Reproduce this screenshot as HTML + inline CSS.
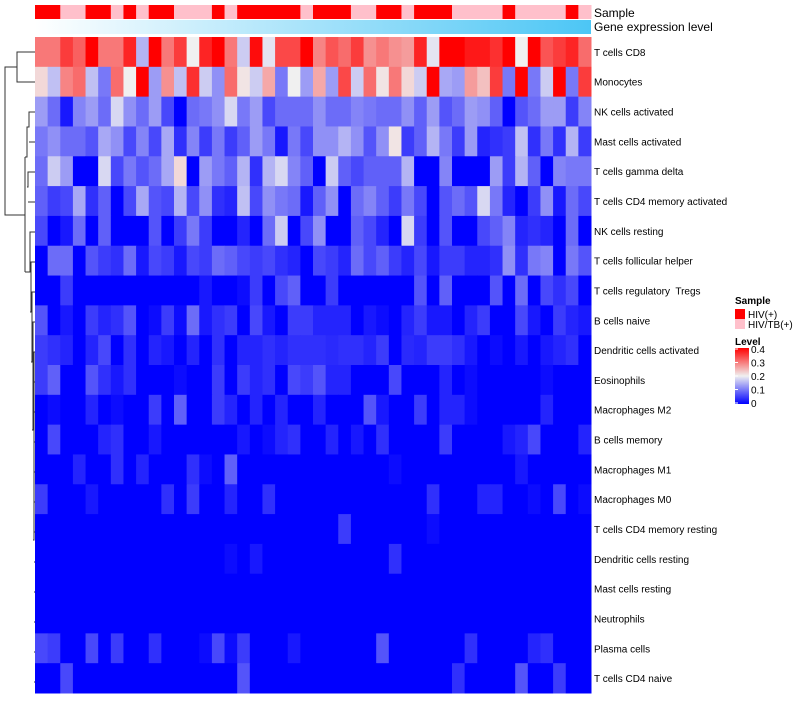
<!DOCTYPE html>
<html><head><meta charset="utf-8"><style>
body{margin:0;background:#fff;}
svg text{font-family:"Liberation Sans",sans-serif;white-space:pre;}
</style></head><body>
<svg id="chart" width="800" height="700" xmlns="http://www.w3.org/2000/svg">
<defs>
<linearGradient id="geneGrad" x1="0" x2="1" y1="0" y2="0"><stop offset="0" stop-color="#ffffff"/><stop offset="1" stop-color="#4cc6f5"/></linearGradient>
<linearGradient id="levelGrad" x1="0" x2="0" y1="1" y2="0"><stop offset="0" stop-color="#0000ff"/><stop offset="0.5" stop-color="#f0f0f0"/><stop offset="1" stop-color="#ff0000"/></linearGradient>
</defs>
<g id="cells"></g>
<g id="sampleBar"></g>
<rect x="35" y="20" width="556" height="14" fill="url(#geneGrad)"/>
<text x="594" y="17" font-size="12">Sample</text>
<text x="594" y="31" font-size="12">Gene expression level</text>
<g id="rowLabels"></g>
<g stroke="#333" stroke-width="1" fill="none">
<path d="M35 52H17V82H35M17 67H5V215H25"/>
<path d="M25 157V272"/>
<path d="M25 157H27V127H29V112H35M29 142H35M27 187H28V172H35M28 202H35"/>
<path d="M25 272H30V232H35M30 312H31V262H35M31 362H32V292H35M32 430H33V322H35M33 540H34V352H35M34 382H35M34 412H35M34 442H35M34 472H35M34 502H35M34 532H35M34 562H35M34 592H35M34 622H35M34 652H35M34 682H35"/>
</g>
<g>
<text x="735" y="304" font-size="10" font-weight="bold">Sample</text>
<rect x="735" y="309" width="10" height="10" fill="#ff0000"/>
<text x="748" y="318" font-size="10">HIV(+)</text>
<rect x="735" y="319" width="10" height="10" fill="#ffc0cb"/>
<text x="748" y="328" font-size="10">HIV/TB(+)</text>
<text x="735" y="345" font-size="10" font-weight="bold">Level</text>
<rect x="735" y="348" width="14" height="56" fill="url(#levelGrad)"/>
<g id="levelTicks"></g>
</g>
</svg>
<script>
const rowNames=["T cells CD8","Monocytes","NK cells activated","Mast cells activated","T cells gamma delta","T cells CD4 memory activated","NK cells resting","T cells follicular helper","T cells regulatory  Tregs","B cells naive","Dendritic cells activated","Eosinophils","Macrophages M2","B cells memory","Macrophages M1","Macrophages M0","T cells CD4 memory resting","Dendritic cells resting","Mast cells resting","Neutrophils","Plasma cells","T cells CD4 naive"];
const sampleGroups=[0,0,1,1,0,0,1,0,1,0,0,1,1,1,0,1,0,0,0,0,0,1,0,0,0,1,1,0,0,1,0,0,0,1,1,1,1,0,1,1,1,1,0,1];
const levelTicks=[0,0.1,0.2,0.3,0.4];
function z(n){return new Array(n).fill(0);}
function sparse(pairs){const a=z(44);for(const [i,v] of pairs)a[i]=v;return a;}
const rowCD8=[0.3,0.3,0.35,0.32,0.42,0.3,0.3,0.37,0.15,0.42,0.3,0.35,0.2,0.37,0.42,0.3,0.17,0.39,0.19,0.34,0.34,0.42,0.29,0.33,0.31,0.35,0.28,0.3,0.28,0.27,0.37,0.19,0.42,0.42,0.38,0.38,0.36,0.42,0.2,0.42,0.33,0.35,0.37,0.31];
const rowMono=[0.22,0.16,0.29,0.31,0.16,0.1,0.31,0.2,0.42,0.13,0.28,0.16,0.36,0.17,0.12,0.31,0.21,0.17,0.26,0.1,0.2,0.13,0.26,0.13,0.34,0.17,0.31,0.21,0.3,0.22,0.17,0.42,0.14,0.13,0.27,0.24,0.35,0.1,0.42,0.1,0.17,0.4,0.1,0.35];
const rowNKa=[0.13,0.09,0.02,0.11,0.13,0.09,0.18,0.12,0.09,0.13,0.06,0,0.09,0.1,0.12,0.18,0.1,0.13,0.06,0.09,0.09,0.09,0.12,0.09,0.09,0.11,0.1,0.09,0.09,0.12,0.08,0.13,0.07,0.09,0.13,0.12,0.08,0,0.07,0.09,0.13,0.13,0.05,0.11];
const rowMastA=[0.1,0.12,0.09,0.09,0.07,0.14,0.12,0.06,0.11,0.06,0.14,0.04,0.11,0.05,0.1,0.05,0.08,0.13,0.1,0.02,0.1,0.06,0.12,0.12,0.15,0.12,0.07,0.12,0.21,0.05,0.08,0.15,0.1,0.05,0.13,0.03,0.04,0.05,0.16,0.04,0.1,0.04,0.15,0.05];
const rowGD=[0.09,0.17,0.13,0,0,0.18,0.06,0.1,0.07,0.09,0.14,0.22,0,0.13,0.1,0.08,0.15,0.04,0.15,0.18,0.11,0.08,0,0.17,0.08,0.06,0.08,0.08,0.08,0.15,0,0,0.11,0,0,0,0.13,0.05,0.15,0.08,0,0.11,0.1,0.1];
const rowCD4a=[0.08,0.05,0.06,0.14,0.04,0.08,0,0.06,0.14,0.07,0.06,0.15,0.06,0.12,0.04,0.03,0.16,0.06,0.12,0.1,0.09,0.02,0.08,0.12,0,0.09,0.11,0.08,0.05,0.1,0.06,0,0.07,0.09,0.07,0.18,0.1,0.03,0,0.05,0.12,0.02,0.09,0.06];
const rowNKr=[0.06,0,0.02,0.09,0,0.08,0,0,0,0.07,0,0.05,0.1,0.05,0,0,0.03,0,0.09,0.17,0,0.06,0.12,0,0,0.08,0.06,0.03,0,0.18,0.05,0,0.07,0,0,0.06,0.08,0.11,0.03,0.04,0.03,0,0.09,0];
const rowTfh=[0,0.09,0.09,0,0.07,0.05,0.04,0.09,0.02,0.06,0.05,0.02,0.06,0.05,0.09,0.08,0.06,0.05,0.06,0.04,0.03,0,0.06,0.05,0.03,0.09,0.06,0.08,0.05,0.03,0.06,0.02,0.05,0.05,0.03,0.03,0.04,0.12,0.04,0.1,0.11,0,0.1,0.07];
const rowTreg=[0,0,0.05,0,0,0,0,0,0,0,0,0,0,0.02,0,0,0.01,0.05,0,0.06,0.08,0,0,0.05,0,0,0,0,0,0,0.07,0,0.08,0,0,0,0.07,0,0.09,0,0.06,0.04,0.06,0];
const rowBn=[0.07,0,0.02,0,0.05,0.03,0.04,0.07,0,0.01,0.05,0.01,0.09,0.02,0.04,0.05,0,0.06,0.02,0,0.05,0.05,0.03,0.03,0.03,0,0.02,0.01,0,0.03,0.05,0.02,0.02,0,0.03,0.05,0,0,0.06,0.02,0,0.05,0.03,0.02];
const rowDCa=[0.05,0.04,0.03,0,0.03,0.06,0,0.04,0,0.03,0.02,0,0.03,0,0.04,0,0.03,0.03,0.04,0.03,0.04,0.04,0.04,0.035,0.04,0.04,0.03,0.05,0,0.035,0.03,0.05,0.05,0.04,0.02,0,0.01,0,0.02,0,0.02,0.03,0.04,0];
const rowEos=[0.05,0.08,0,0,0.07,0.04,0.02,0.04,0,0,0,0.01,0,0,0.05,0,0.05,0.03,0.04,0,0.06,0.05,0.07,0.03,0.03,0,0,0,0.06,0,0,0,0.03,0,0.01,0,0,0,0,0,0.01,0,0,0];
const rowM2=[0,0.01,0,0,0.03,0,0.01,0,0,0.05,0,0.08,0,0,0.05,0.03,0,0.03,0,0.03,0,0,0.03,0,0,0,0.07,0.02,0,0,0.05,0,0.03,0.03,0.01,0,0,0,0,0,0.03,0,0,0];
const rowBm=[0,0.06,0,0,0,0.03,0.04,0,0,0.02,0,0,0,0,0,0,0.02,0,0.01,0.03,0.04,0,0,0.03,0,0.02,0,0.04,0,0,0,0,0.05,0,0,0,0,0.02,0.03,0.06,0,0,0,0.03];
const rowM1=sparse([[3,0.03],[6,0.04],[8,0.03],[12,0.04],[13,0.01],[15,0.08],[28,0.01],[38,0.02]]);
const rowM0=sparse([[0,0.05],[4,0.02],[10,0.04],[12,0.05],[15,0.03],[18,0.04],[31,0.04],[35,0.03],[36,0.03],[39,0.01],[41,0.06],[43,0.01]]);
const rowCD4r=sparse([[24,0.05],[31,0.01]]);
const rowDCr=sparse([[15,0.01],[17,0.02],[28,0.04]]);
const rowMastR=z(44);
const rowNeu=z(44);
const rowPlasma=sparse([[0,0.06],[1,0.05],[4,0.06],[6,0.05],[9,0.04],[13,0.01],[14,0.06],[15,0.01],[16,0.05],[20,0.02],[27,0.07],[34,0.04],[39,0.03],[40,0.04]]);
const rowCD4n=sparse([[2,0.06],[16,0.07],[33,0.04],[38,0.07],[41,0.05]]);
const values=[rowCD8,rowMono,rowNKa,rowMastA,rowGD,rowCD4a,rowNKr,rowTfh,rowTreg,rowBn,rowDCa,rowEos,rowM2,rowBm,rowM1,rowM0,rowCD4r,rowDCr,rowMastR,rowNeu,rowPlasma,rowCD4n];

const NS="http://www.w3.org/2000/svg";
const x0=35,x1=591,y0=37,y1=693;
const nCol=sampleGroups.length,nRow=rowNames.length;
const cw=(x1-x0)/nCol,rh=(y1-y0)/nRow;
function xPos(i){return x0+i*cw;}
function yPos(j){return y0+j*rh;}
function lerp(a,b,t){return Math.round(a+(b-a)*t);}
function color(v){
  v=Math.max(0,Math.min(0.4,v));
  if(v<=0.2){const t=v/0.2;return `rgb(${lerp(0,240,t)},${lerp(0,240,t)},${lerp(255,240,t)})`;}
  const t=(v-0.2)/0.2;return `rgb(${lerp(240,255,t)},${lerp(240,0,t)},${lerp(240,0,t)})`;
}
const cells=document.getElementById('cells');
values.forEach((row,j)=>row.forEach((v,i)=>{
  const r=document.createElementNS(NS,'rect');
  r.setAttribute('x',xPos(i));r.setAttribute('y',yPos(j));
  r.setAttribute('width',cw+0.5);r.setAttribute('height',rh+0.5);
  r.setAttribute('fill',color(v));
  
  
  cells.appendChild(r);
}));
const sb=document.getElementById('sampleBar');
sampleGroups.forEach((g,i)=>{
  const r=document.createElementNS(NS,'rect');
  r.setAttribute('x',xPos(i));r.setAttribute('y',5);
  r.setAttribute('width',cw+0.5);r.setAttribute('height',14);
  r.setAttribute('fill',g===0?'#ff0000':'#ffc0cb');
  
  
  sb.appendChild(r);
});
const rl=document.getElementById('rowLabels');
rowNames.forEach((n,j)=>{
  const t=document.createElementNS(NS,'text');
  t.setAttribute('x',594);t.setAttribute('y',yPos(j)+rh/2+4);
  t.setAttribute('font-size','10');
  t.textContent=n;
  
  
  rl.appendChild(t);
});
const lt=document.getElementById('levelTicks');
levelTicks.forEach(v=>{
  const y=403-(v/0.4)*54;
  const l=document.createElementNS(NS,'line');
  l.setAttribute('x1',735);l.setAttribute('x2',738);l.setAttribute('y1',y);l.setAttribute('y2',y);l.setAttribute('stroke','#fff');
  
  
  lt.appendChild(l);
  const t=document.createElementNS(NS,'text');
  t.setAttribute('x',751);t.setAttribute('y',y+4);t.setAttribute('font-size','10');
  t.textContent=String(v);
  
  
  lt.appendChild(t);
});
</script>
</body></html>
